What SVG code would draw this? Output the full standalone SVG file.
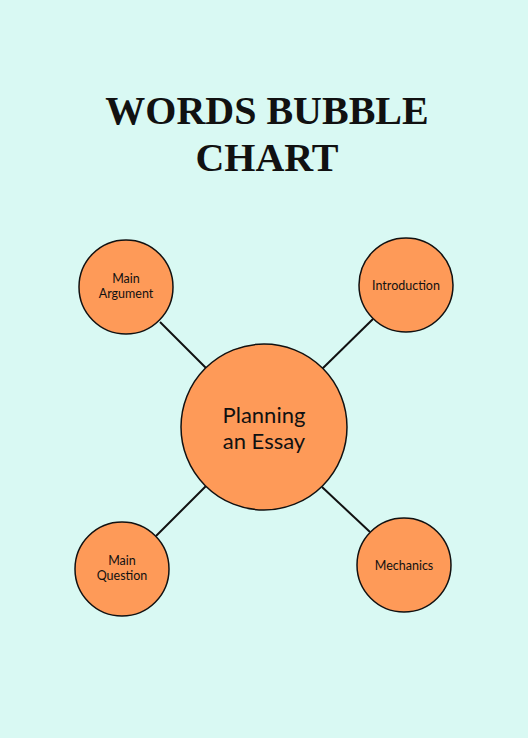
<svg xmlns="http://www.w3.org/2000/svg" width="528" height="738" viewBox="0 0 528 738">
<style>
.n{fill:#fe9a58;stroke:#111;stroke-width:1.5}
.t{font-family:Lato,"Liberation Sans",sans-serif;font-size:12.5px;fill:#111;text-anchor:middle}
.c{stroke:#111;stroke-width:2}
.h{font-family:"Liberation Serif",serif;font-weight:bold;font-size:40px;fill:#111;text-anchor:middle}
</style>
<rect width="528" height="738" fill="#d9f9f3"/>
<text class="h" x="267" y="124">WORDS BUBBLE</text>
<text class="h" x="267" y="171">CHART</text>
<g id="connectors">
<line class="c" x1="160" y1="322" x2="206" y2="368"/>
<line class="c" x1="373" y1="319" x2="322" y2="369"/>
<line class="c" x1="156" y1="536" x2="206" y2="486"/>
<line class="c" x1="322" y1="487" x2="370" y2="532"/>
</g>
<g id="center"><circle class="n" cx="264" cy="427" r="83"/>
<text class="t" style="font-size:22px" x="264" y="423">Planning</text><text class="t" style="font-size:22px" x="264" y="449">an Essay</text></g>
<g id="main-argument"><circle class="n" cx="126" cy="287" r="47"/>
<text class="t" x="126" y="283">Main</text><text class="t" x="126" y="298">Argument</text></g>
<g id="introduction"><circle class="n" cx="406" cy="285" r="47"/>
<text class="t" x="406" y="290">Introduction</text></g>
<g id="main-question"><circle class="n" cx="122" cy="569" r="47"/>
<text class="t" x="122" y="565">Main</text><text class="t" x="122" y="580">Question</text></g>
<g id="mechanics"><circle class="n" cx="404" cy="565" r="47"/>
<text class="t" x="404" y="570">Mechanics</text></g>
</svg>
